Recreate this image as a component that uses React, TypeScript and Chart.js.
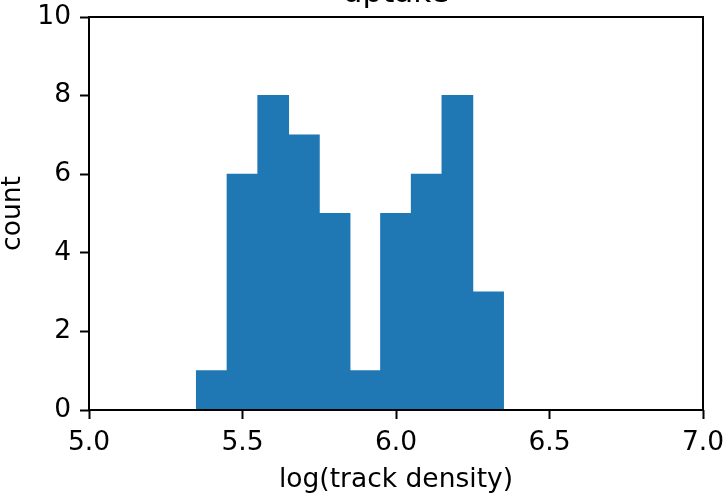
import React, { useEffect, useRef } from "react";
import { Chart, registerables } from "chart.js";

Chart.register(...registerables);

const titleText = "uptake";
const xLabel = "log(track density)";
const yLabel = "count";
const binCenters = [5.4, 5.5, 5.6, 5.7, 5.8, 5.9, 6.0, 6.1, 6.2, 6.3];
const counts = [1, 6, 8, 7, 5, 1, 5, 6, 8, 3];
const xTicks = [5.0, 5.5, 6.0, 6.5, 7.0];
const yTicks = [0, 2, 4, 6, 8, 10];

const FONT = "'DejaVu Sans', sans-serif";
const FS = 26.5;

export default function App() {
  const ref = useRef<HTMLCanvasElement | null>(null);

  useEffect(() => {
    if (!ref.current) return;
    const framePlugin = {
      id: "frame",
      afterDraw(chart: any) {
        const { ctx, chartArea } = chart;
        ctx.save();
        ctx.strokeStyle = "#000";
        ctx.lineWidth = 2;
        ctx.strokeRect(
          chartArea.left,
          chartArea.top,
          chartArea.right - chartArea.left,
          chartArea.bottom - chartArea.top
        );
        ctx.fillStyle = "#000";
        ctx.font = `31px ${FONT}`;
        ctx.textAlign = "center";
        ctx.textBaseline = "alphabetic";
        ctx.fillText(titleText, (chartArea.left + chartArea.right) / 2, 2);
        ctx.restore();
      },
    };

    const chart = new Chart(ref.current, {
      type: "bar",
      data: {
        datasets: [
          {
            data: binCenters.map((c, i) => ({ x: c, y: counts[i] })),
            backgroundColor: "#1f77b4",
            borderWidth: 0,
            inflateAmount: 0.5,
            barPercentage: 1,
            categoryPercentage: 1,
          },
        ],
      },
      options: {
        animation: false,
        responsive: false,
        devicePixelRatio: 1,
        layout: { padding: { top: 17, right: 25, left: 0, bottom: 0 } },
        plugins: {
          legend: { display: false },
          tooltip: { enabled: false },
          title: { display: false },
        },
        scales: {
          x: {
            type: "linear",
            min: 5,
            max: 7,
            offset: false,
            afterFit: (s: any) => {
              s.height = 83;
              s.paddingLeft = 0;
              s.paddingRight = 0;
            },
            afterBuildTicks: (s: any) => {
              s.ticks = xTicks.map((v) => ({ value: v }));
            },
            ticks: {
              color: "#000",
              font: { family: FONT, size: FS },
              padding: 8,
              maxRotation: 0,
              autoSkip: false,
              callback: (v: any) => Number(v).toFixed(1),
            },
            grid: {
              offset: false,
              drawOnChartArea: false,
              drawTicks: true,
              tickLength: 9,
              tickWidth: 2,
              color: "#000",
            },
            border: { display: false },
            title: {
              display: true,
              text: xLabel,
              color: "#000",
              font: { family: FONT, size: FS, lineHeight: 1 },
              padding: { top: 0, bottom: 0 },
            },
          },
          y: {
            type: "linear",
            min: 0,
            max: 10,
            afterFit: (s: any) => {
              s.width = 89;
              s.paddingTop = 0;
              s.paddingBottom = 0;
            },
            afterBuildTicks: (s: any) => {
              s.ticks = yTicks.map((v) => ({ value: v }));
            },
            ticks: {
              color: "#000",
              font: { family: FONT, size: FS },
              padding: 9,
              autoSkip: false,
            },
            grid: {
              drawOnChartArea: false,
              drawTicks: true,
              tickLength: 9,
              tickWidth: 2,
              color: "#000",
            },
            border: { display: false },
            title: {
              display: true,
              text: yLabel,
              color: "#000",
              font: { family: FONT, size: FS, lineHeight: 1 },
              padding: { top: 0, bottom: 0 },
            },
          },
        },
      },
      plugins: [framePlugin],
    } as any);
    return () => chart.destroy();
  }, []);

  return (
    <div style={{ position: "absolute", left: 0, top: 0, width: 728, height: 493, background: "#fff" }}>
      <canvas ref={ref} width={728} height={493} style={{ width: 728, height: 493, display: "block" }} />
    </div>
  );
}
